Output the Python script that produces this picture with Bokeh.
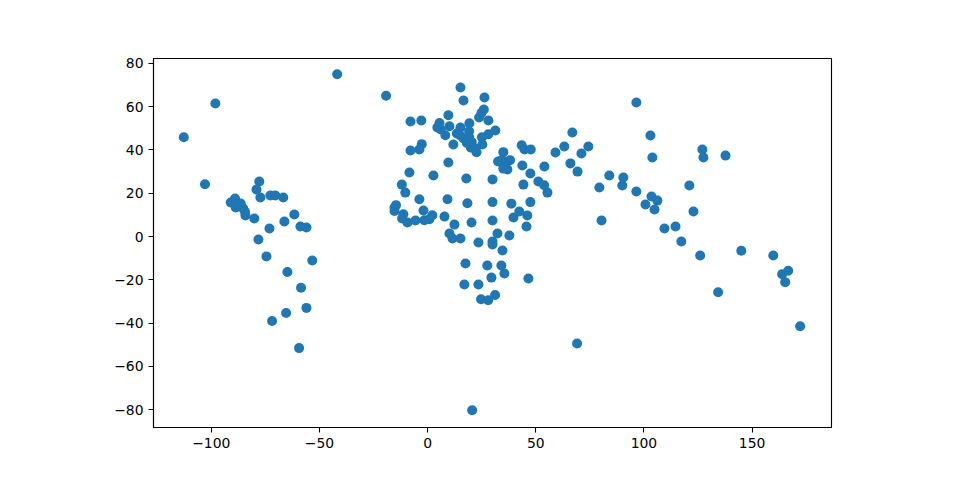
from bokeh.plotting import figure
from bokeh.models import Range1d, FixedTicker
from bokeh.embed import file_html
from bokeh.resources import INLINE

lon = [15.2,16.6,26.3,26,24.9,23.8,28.1,9.6,10.1,5.5,4.5,6.1,8.2,-7.9,-2.9,19.3,15.2,13.5,19.2,15.0,16.6,19.2,18.1,20.4,20,22.6,22,25.1,25.3,28.1,31.3,11.9,-2.7,-3.8,-7.9,9.6,-8.4,2.7,17.9,30,-11.9,35,32.6,34.3,38.1,36,35,36.9,43.5,44.8,47.7,43.8,47.5,54,44.3,51.2,53.9,55.4,59.1,63.2,66.9,66,
       -10.3,-3.8,9.2,18.4,30,38.7,47.5,-14.6,-15.3,-15.3,-11.2,-11.8,-9.3,-5.6,-1.9,-1.5,0.8,2.2,7.8,12.4,20.3,30,39.7,42.4,46.1,45.7,32.3,37.8,10.1,11.5,15.2,23.5,30,30,34.6,17.5,27.6,34.1,35.5,29.5,46.6,17,23.5,24.7,28,31.2,69.1,20.6,
       -77.8,-79.1,-77.3,-72.7,-70.4,-66.7,-61.6,-66.2,-73.1,-80.1,-84.2,-78.2,-74.5,-58.8,-56,-53.3,-91,-89,-89.8,-88.7,-86.4,-85.2,-87.5,-84.4,-64.8,-58.5,-56,-71.9,-65.4,-59.4,-112.7,-102.9,-98.1,-41.8,-19.2,
       96.5,103,74.3,71.1,103.9,127,127.5,137.7,69.3,84,90.5,90,79.4,96.5,103.5,106.2,100.7,104.9,121,122.9,80.4,109.5,114.6,117.3,126,145,159.8,163.9,166.7,165.3,172.2,134.3]
lat = [68.9,62.9,64.3,58.7,57.1,55,53.6,56.1,51,52.5,50.4,49.5,46.8,53.2,53.6,52.4,50.4,47.6,48.7,46.8,45.3,46,43.3,43.7,41.1,39,40.7,45.9,42.5,47.3,49,42.5,42.7,40.2,39.8,34.2,29.6,28.2,26.8,26.4,24,39,34.7,35.3,35.3,33.3,31.4,31,42.2,40.2,40.2,32.8,29.1,32.4,24,25.4,23.7,20.3,38.8,41.6,48.1,33.8,
       20.3,17.2,17.2,15.4,15.9,15.2,15.9,14.5,13.4,11.8,10.3,8.3,6.5,7.4,12,7.5,8,9.8,9.2,5.5,6.5,7.4,8.8,11.6,9.7,4.6,1.4,0.5,1.4,-0.9,-0.9,-2.8,-2.3,-3.7,-6.5,-12.5,-13.4,-13.4,-17.1,-19,-19.4,-22.2,-22.2,-29,-29.5,-27,-49.5,-80.3,
       25.4,21.7,18,19,19,18,10.2,6.9,3.7,8.3,9.7,-1.4,-9.2,4.6,4.2,-11.1,15.7,17.6,16,13.4,15.3,12.9,14.5,11.4,-16.4,-23.7,-33,-39.1,-35.4,-51.6,45.9,24.2,61.5,75,65.1,
       62,46.7,41.6,38.4,36.5,40.2,36.5,37.4,30,28.2,27.3,23.6,22.7,20.8,18.5,16.6,14.8,12.5,23.6,11.6,7.4,3.7,4.6,-2.3,-8.8,-6.6,-8.8,-17.4,-15.8,-21.1,-41.5,-25.8]
x_ticks = [-100, -50, 0, 50, 100, 150]
y_ticks = [-80, -60, -40, -20, 0, 20, 40, 60, 80]

p = figure(frame_width=678, frame_height=369, output_backend="svg", toolbar_location=None,
           x_range=Range1d(-126.7, 186.7), y_range=Range1d(-88.3, 82.3),
           min_border_left=153, min_border_top=58, min_border_right=100, min_border_bottom=30)
p.scatter(lon, lat, size=10, fill_color="#1f77b4", line_color=None)
p.grid.visible = False
p.outline_line_color = "black"
p.outline_line_width = 1.1
p.xaxis.ticker = FixedTicker(ticks=x_ticks)
p.yaxis.ticker = FixedTicker(ticks=y_ticks)
p.xaxis.major_label_overrides = {t: str(t).replace("-", "\u2212") for t in x_ticks}
p.yaxis.major_label_overrides = {t: str(t).replace("-", "\u2212") for t in y_ticks}
for ax in (p.xaxis[0], p.yaxis[0]):
    ax.minor_tick_line_color = None
    ax.major_tick_in = 0
    ax.major_tick_out = 5
    ax.major_tick_line_width = 1.1
    ax.axis_line_width = 1.1
    ax.axis_line_color = "black"
    ax.major_tick_line_color = "black"
    ax.major_label_text_font = "DejaVu Sans"
    ax.major_label_text_font_size = "13.9px"
    ax.major_label_text_color = "black"
    ax.major_label_standoff = 5
p.yaxis[0].major_label_orientation = "horizontal"
p.background_fill_color = "white"

open("out.html", "w").write(file_html(p, INLINE))
